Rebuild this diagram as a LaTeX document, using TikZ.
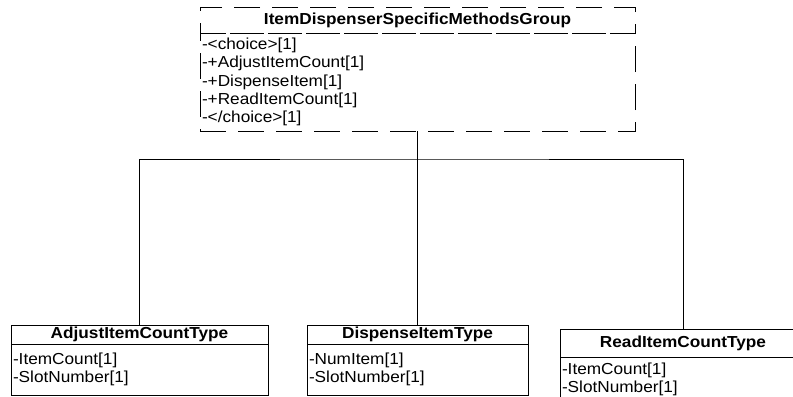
\documentclass[tikz,border=0pt]{standalone}
\usepackage{fontspec}
\setmainfont{Liberation Sans}[FakeStretch=1.08]
\usetikzlibrary{positioning}

\begin{document}
\begin{tikzpicture}[
  x=1bp, y=-1bp,
  every node/.style={font=\fontsize{16}{18.3}\selectfont, inner sep=0pt, outer sep=0pt},
  head/.style={draw, line width=1bp, font=\fontsize{16}{18.3}\selectfont\bfseries, anchor=north west},
  body/.style={draw, line width=1bp, align=left, anchor=north, inner xsep=2bp},
  grpline/.style={dash pattern=on 26bp off 12bp},
  wire/.style={draw, line width=0.9bp}
]
\useasboundingbox (0,0) rectangle (793,396);

% choice group at the top
\node[head, grpline, minimum width=435bp, minimum height=26bp] (grp) at (200,7) {ItemDispenserSpecificMethodsGroup};
\node[body, grpline, minimum width=435bp, text width=431bp, minimum height=98bp] (grpbody) at (grp.south)
  {-<choice>[1]\\-+AdjustItemCount[1]\\-+DispenseItem[1]\\-+ReadItemCount[1]\\-</choice>[1]};

% the three types
\node[head, minimum width=257bp, minimum height=19bp] (adjust) at (11,325) {AdjustItemCountType};
\node[body, minimum width=257bp, text width=253bp, minimum height=51bp] (adjustbody) at (adjust.south)
  {-ItemCount[1]\\-SlotNumber[1]};

\node[head, minimum width=221bp, minimum height=19bp] (dispense) at (307,325) {DispenseItemType};
\node[body, minimum width=221bp, text width=217bp, minimum height=51bp] (dispensebody) at (dispense.south)
  {-NumItem[1]\\-SlotNumber[1]};

\node[head, minimum width=246bp, minimum height=28bp] (readcnt) at (560,329) {ReadItemCountType};
\node[body, minimum width=246bp, text width=242bp, minimum height=44bp] (readcntbody) at (readcnt.south)
  {-ItemCount[1]\\-SlotNumber[1]};

% connectors
\draw[wire] (grpbody.south) -- ++(0,28) coordinate (fork);
\draw[wire] (adjust.north) |- (fork) -| (readcnt.north);
\draw[wire] (fork) -- (dispense.north);

\end{tikzpicture}
\end{document}
